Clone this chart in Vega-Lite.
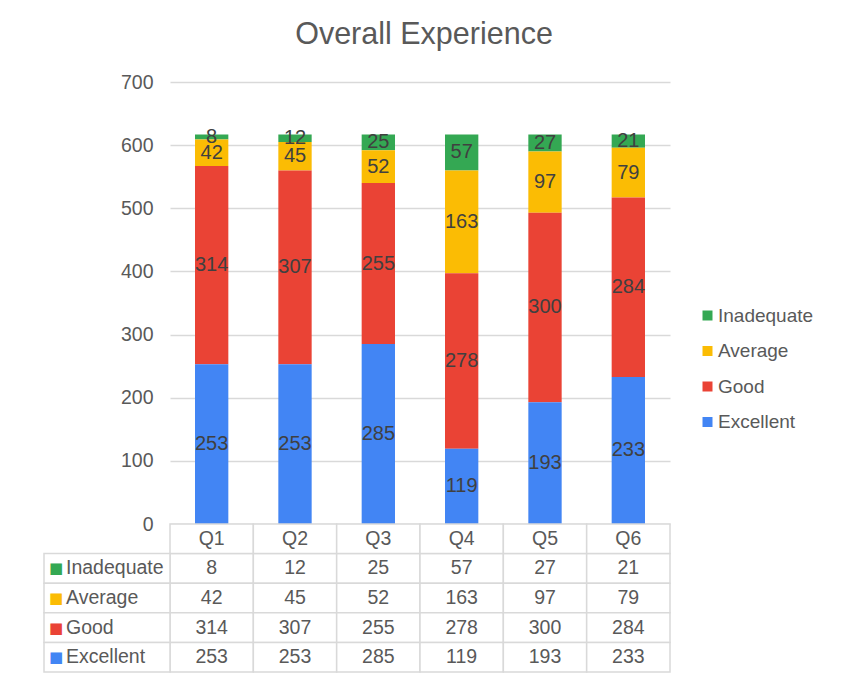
{
  "$schema": "https://vega.github.io/schema/vega-lite/v6.json",
  "background": "white",
  "padding": {"left": 43, "top": 19, "right": 5, "bottom": 0},
  "spacing": 0,
  "bounds": "flush",
  "config": {
    "font": "Liberation Sans",
    "view": {"stroke": null},
    "axis": {"labelFont": "Liberation Sans"}
  },
  "datasets": {
    "survey": [
      {"quarter": "Q1", "rating": "Inadequate", "count": 8},
      {"quarter": "Q1", "rating": "Average", "count": 42},
      {"quarter": "Q1", "rating": "Good", "count": 314},
      {"quarter": "Q1", "rating": "Excellent", "count": 253},
      {"quarter": "Q2", "rating": "Inadequate", "count": 12},
      {"quarter": "Q2", "rating": "Average", "count": 45},
      {"quarter": "Q2", "rating": "Good", "count": 307},
      {"quarter": "Q2", "rating": "Excellent", "count": 253},
      {"quarter": "Q3", "rating": "Inadequate", "count": 25},
      {"quarter": "Q3", "rating": "Average", "count": 52},
      {"quarter": "Q3", "rating": "Good", "count": 255},
      {"quarter": "Q3", "rating": "Excellent", "count": 285},
      {"quarter": "Q4", "rating": "Inadequate", "count": 57},
      {"quarter": "Q4", "rating": "Average", "count": 163},
      {"quarter": "Q4", "rating": "Good", "count": 278},
      {"quarter": "Q4", "rating": "Excellent", "count": 119},
      {"quarter": "Q5", "rating": "Inadequate", "count": 27},
      {"quarter": "Q5", "rating": "Average", "count": 97},
      {"quarter": "Q5", "rating": "Good", "count": 300},
      {"quarter": "Q5", "rating": "Excellent", "count": 193},
      {"quarter": "Q6", "rating": "Inadequate", "count": 21},
      {"quarter": "Q6", "rating": "Average", "count": 79},
      {"quarter": "Q6", "rating": "Good", "count": 284},
      {"quarter": "Q6", "rating": "Excellent", "count": 233}
    ]
  },
  "vconcat": [
    {
      "width": 500,
      "height": 442,
      "data": {"name": "survey"},
      "transform": [{"window": [{"op": "row_number", "as": "idx"}]}],
      "title": {
        "text": "Overall Experience",
        "fontSize": 30.5,
        "fontWeight": "normal",
        "color": "#595959",
        "anchor": "middle",
        "dx": 4,
        "offset": 22
      },
      "encoding": {
        "x": {
          "field": "quarter",
          "type": "nominal",
          "axis": null,
          "scale": {"paddingInner": 0.6, "paddingOuter": 0.3}
        },
        "y": {
          "field": "count",
          "type": "quantitative",
          "stack": "zero",
          "scale": {"domain": [0, 700], "nice": false},
          "axis": {
            "title": null,
            "values": [0, 100, 200, 300, 400, 500, 600, 700],
            "domain": false,
            "ticks": false,
            "labelPadding": 17,
            "labelFontSize": 19.5,
            "labelColor": "#595959",
            "gridColor": "#d9d9d9",
            "gridWidth": 1.3
          }
        },
        "order": {"field": "idx", "type": "quantitative", "sort": "descending"}
      },
      "layer": [
        {
          "mark": {"type": "bar"},
          "encoding": {
            "color": {
              "field": "rating",
              "type": "nominal",
              "scale": {
                "domain": ["Inadequate", "Average", "Good", "Excellent"],
                "range": ["#34A853", "#FBBC04", "#EA4335", "#4285F4"]
              },
              "legend": {
                "title": null,
                "orient": "none",
                "legendX": 528,
                "legendY": 224,
                "symbolType": "square",
                "symbolSize": 100,
                "symbolStrokeWidth": 0,
                "labelFontSize": 19,
                "labelColor": "#595959",
                "labelOffset": 1,
                "rowPadding": 15.5
              }
            }
          }
        },
        {
          "mark": {"type": "text", "fontSize": 20, "color": "#404040", "baseline": "middle"},
          "encoding": {
            "y": {
              "field": "count",
              "type": "quantitative",
              "stack": "zero",
              "bandPosition": 0.5
            },
            "text": {"field": "count", "type": "quantitative"}
          }
        }
      ]
    },
    {
      "width": 500,
      "height": 148,
      "data": {"name": "survey"},
      "resolve": {"scale": {"x": "independent"}},
      "encoding": {
        "y": {
          "type": "nominal",
          "scale": {
            "domain": ["header", "Inadequate", "Average", "Good", "Excellent"],
            "paddingInner": 0,
            "paddingOuter": 0
          },
          "axis": null
        }
      },
      "layer": [
        {
          "mark": {"type": "rect", "fill": "white", "stroke": "#d9d9d9", "strokeWidth": 1.5},
          "encoding": {
            "x": {"field": "quarter", "type": "nominal", "axis": null, "scale": {"paddingInner": 0, "paddingOuter": 0}},
            "y": {"field": "rating", "type": "nominal"}
          }
        },
        {
          "mark": {"type": "text", "fontSize": 19.5, "color": "#595959", "baseline": "middle"},
          "encoding": {
            "x": {"field": "quarter", "type": "nominal", "axis": null, "scale": {"paddingInner": 0, "paddingOuter": 0}},
            "y": {"field": "rating", "type": "nominal"},
            "text": {"field": "count", "type": "quantitative"}
          }
        },
        {
          "transform": [{"aggregate": [{"op": "count", "as": "n"}], "groupby": ["quarter"]}],
          "layer": [
            {
              "mark": {"type": "rect", "fill": "white", "stroke": "#d9d9d9", "strokeWidth": 1.5}
            },
            {
              "mark": {"type": "text", "fontSize": 19.5, "color": "#595959", "baseline": "middle"},
              "encoding": {"text": {"field": "quarter", "type": "nominal"}}
            }
          ],
          "encoding": {
            "x": {"field": "quarter", "type": "nominal", "axis": null, "scale": {"paddingInner": 0, "paddingOuter": 0}},
            "y": {"datum": "header", "type": "nominal"}
          }
        },
        {
          "transform": [{"aggregate": [{"op": "count", "as": "n"}], "groupby": ["rating"]}],
          "encoding": {
            "x": {
              "datum": "label",
              "type": "nominal",
              "axis": null,
              "scale": {"range": [-126, 0], "paddingInner": 0, "paddingOuter": 0}
            },
            "y": {"field": "rating", "type": "nominal"}
          },
          "layer": [
            {
              "mark": {"type": "rect", "fill": "white", "stroke": "#d9d9d9", "strokeWidth": 1.5}
            },
            {
              "mark": {"type": "text", "text": "■", "font": "DejaVu Sans", "fontSize": 15, "baseline": "middle", "align": "center", "dx": -51},
              "encoding": {
                "color": {"field": "rating", "type": "nominal"}
              }
            },
            {
              "mark": {"type": "text", "fontSize": 19.5, "color": "#595959", "baseline": "middle", "align": "left", "dx": -41},
              "encoding": {"text": {"field": "rating", "type": "nominal"}}
            }
          ]
        }
      ]
    }
  ]
}
